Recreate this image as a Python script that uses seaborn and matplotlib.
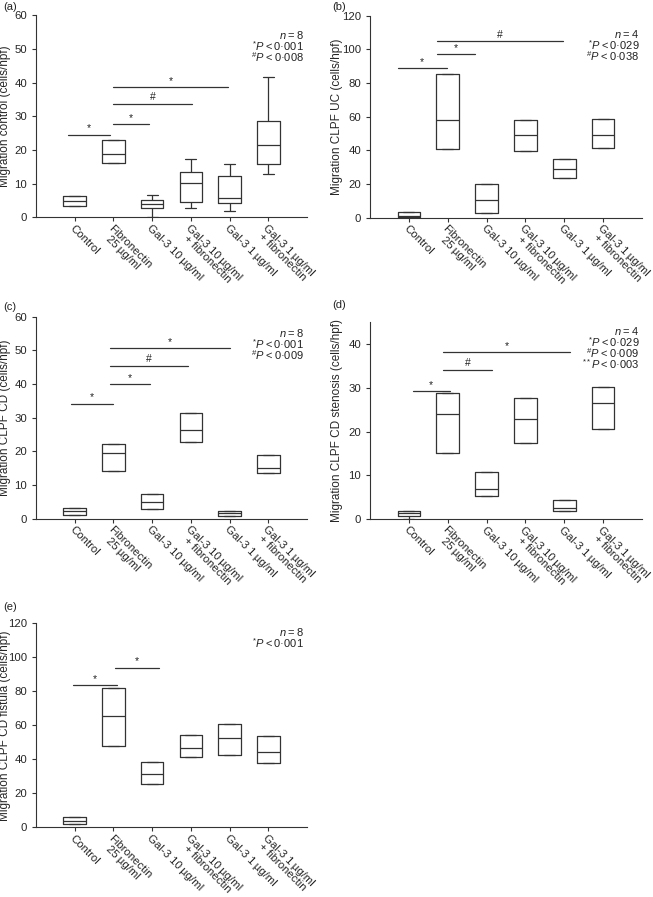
import numpy as np
import pandas as pd
import seaborn as sns
import matplotlib.pyplot as plt

groups = ["Control", "Fibronectin\n25\u2009µg/ml", "Gal-3 10\u2009µg/ml",
          "Gal-3 10\u2009µg/ml\n+ fibronectin", "Gal-3 1\u2009µg/ml",
          "Gal-3 1\u2009µg/ml\n+ fibronectin"]

# (a) migration control
a_lo = [3.3, 16.1, 0.2, 2.9, 2.0, 12.8]
a_q1 = [3.3, 16.1, 2.9, 4.5, 4.3, 15.7]
a_med = [4.9, 18.8, 4.0, 10.2, 5.8, 21.6]
a_q3 = [6.4, 22.9, 5.0, 13.6, 12.2, 28.7]
a_hi = [6.4, 22.9, 6.7, 17.2, 15.7, 41.7]
a_sig = [(-0.17, 0.92, 24.5, "*"), (1.0, 1.92, 27.6, "*"),
         (1.0, 3.02, 33.8, "#"), (1.0, 3.96, 38.7, "*")]
a_notes = ["$n$\u2009=\u20098", "$^{*}P$\u2009<\u20090·001", "$^{\\#}P$\u2009<\u20090·008"]

# (b) CLPF UC
b_lo = [0.7, 40.6, 2.6, 39.6, 23.8, 41.2]
b_q1 = [0.7, 40.6, 2.6, 39.6, 23.8, 41.2]
b_med = [1.0, 57.8, 10.7, 48.9, 29.1, 49.3]
b_q3 = [3.4, 85.1, 19.8, 58.0, 35.0, 58.4]
b_hi = [3.4, 85.1, 19.8, 58.0, 35.0, 58.4]
b_sig = [(-0.29, 0.98, 88.7, "*"), (0.72, 1.71, 97.2, "*"),
         (0.72, 3.96, 105.0, "#")]
b_notes = ["$n$\u2009=\u20094", "$^{*}P$\u2009<\u20090·029", "$^{\\#}P$\u2009<\u20090·038"]

# (c) CLPF CD
c_lo = [1.1, 14.2, 2.8, 22.7, 0.9, 13.7]
c_q1 = [1.1, 14.2, 2.8, 22.7, 0.9, 13.7]
c_med = [2.2, 19.6, 4.9, 26.3, 1.6, 15.2]
c_q3 = [3.2, 22.1, 7.2, 31.3, 2.4, 18.9]
c_hi = [3.2, 22.1, 7.2, 31.3, 2.4, 18.9]
c_sig = [(-0.1, 0.98, 34.2, "*"), (0.9, 1.95, 40.0, "*"),
         (0.9, 2.93, 45.4, "#"), (0.9, 4.0, 50.6, "*")]
c_notes = ["$n$\u2009=\u20098", "$^{*}P$\u2009<\u20090·001", "$^{\\#}P$\u2009<\u20090·009"]

# (d) CLPF CD stenosis
d_lo = [0.0, 15.0, 5.3, 17.3, 1.8, 20.5]
d_q1 = [0.8, 15.0, 5.3, 17.3, 1.8, 20.5]
d_med = [1.3, 24.0, 6.9, 22.9, 2.5, 26.5]
d_q3 = [1.9, 28.9, 10.7, 27.6, 4.3, 30.2]
d_hi = [1.9, 28.9, 10.7, 27.6, 4.3, 30.2]
d_sig = [(0.1, 1.05, 29.3, "*"), (0.88, 2.13, 34.2, "#"),
         (0.88, 4.15, 38.2, "*")]
d_notes = ["$n$\u2009=\u20094", "$^{*}P$\u2009<\u20090·029", "$^{\\#}P$\u2009<\u20090·009",
           "$^{**}P$\u2009<\u20090·003"]

# (e) CLPF CD fistula
e_lo = [1.8, 47.6, 25.7, 41.6, 42.4, 37.8]
e_q1 = [1.8, 47.6, 25.7, 41.6, 42.4, 37.8]
e_med = [3.7, 65.3, 31.6, 46.7, 52.4, 44.5]
e_q3 = [6.3, 82.0, 38.2, 54.5, 60.6, 53.9]
e_hi = [6.3, 82.0, 38.2, 54.5, 60.6, 53.9]
e_sig = [(-0.04, 1.1, 83.5, "*"), (1.04, 2.17, 93.9, "*")]
e_notes = ["$n$\u2009=\u20098", "$^{*}P$\u2009<\u20090·001"]

ink = "#333333"

sns.set_style("ticks")
plt.rcParams["font.family"] = ["Liberation Sans", "DejaVu Sans"]
plt.rcParams["mathtext.fontset"] = "custom"
plt.rcParams["mathtext.rm"] = "Liberation Sans"
plt.rcParams["mathtext.it"] = "Liberation Sans:italic"
plt.rcParams["mathtext.sf"] = "Liberation Sans"
plt.rcParams["axes.edgecolor"] = ink
plt.rcParams["axes.linewidth"] = 0.8
plt.rcParams["text.color"] = "#222222"

W, H = 653, 897
fig = plt.figure(figsize=(W / 100, H / 100), dpi=100)


def panel(rect, tag, tagpos, lo, q1, med, q3, hi, ymax, yticks, ylabel, labx,
          sig, notes, note_top):
    ax = fig.add_axes(rect)
    df = pd.DataFrame({
        "group": np.repeat(groups, 5),
        "value": np.column_stack([lo, q1, med, q3, hi]).ravel(),
    })
    sns.boxplot(data=df, x="group", y="value", order=groups, whis=(0, 100),
                width=0.58, fill=False, color=ink, linewidth=0.9, ax=ax)
    ax.set_xlim(-1, 6)
    ax.set_ylim(0, ymax)
    ax.set_yticks(yticks)
    ax.set_xticks(range(len(groups)))
    ax.set_xticklabels(groups, rotation=-45, ha="left", va="top",
                       rotation_mode="anchor", multialignment="center",
                       linespacing=0.95, fontsize=7.6)
    ax.tick_params(axis="both", length=3, width=0.8, color=ink, labelsize=8.2)
    ax.tick_params(axis="x", pad=1)
    ax.set_xlabel("")
    ax.set_ylabel(ylabel, fontsize=8.5)
    ax.yaxis.set_label_coords(labx, 0.5)
    sns.despine(ax=ax)

    for x0, x1, y, mark in sig:
        ax.plot([x0, x1], [y, y], color=ink, lw=0.9)
        ax.annotate(mark, ((x0 + x1) / 2, y), xytext=(0, 1), textcoords="offset points",
                    ha="center", va="bottom", fontsize=7.5)

    step = 11 / (rect[3] * H)
    for i, t in enumerate(notes):
        ax.text(0.99, note_top - i * step, t, transform=ax.transAxes,
                ha="right", va="center", fontsize=8)

    fig.text(tagpos[0] / W, 1 - tagpos[1] / H, tag, fontsize=8, ha="left", va="center")
    return ax


panel([36 / W, 1 - 217.3 / H, 271 / W, 202 / H], "(a)", (3, 7),
      a_lo, a_q1, a_med, a_q3, a_hi, 60, range(0, 61, 10),
      "Migration control (cells/hpf)", -0.092, a_sig, a_notes, 0.90)
panel([370 / W, 1 - 217.7 / H, 272 / W, 202 / H], "(b)", (332, 7),
      b_lo, b_q1, b_med, b_q3, b_hi, 120, range(0, 121, 20),
      "Migration CLPF UC (cells/hpf)", -0.1, b_sig, b_notes, 0.91)
panel([36 / W, 1 - 518.7 / H, 271 / W, 202 / H], "(c)", (3, 307),
      c_lo, c_q1, c_med, c_q3, c_hi, 60, range(0, 61, 10),
      "Migration CLPF CD (cells/hpf)", -0.092, c_sig, c_notes, 0.92)
panel([370 / W, 1 - 519 / H, 272 / W, 196.5 / H], "(d)", (332, 305),
      d_lo, d_q1, d_med, d_q3, d_hi, 45, range(0, 41, 10),
      "Migration CLPF CD stenosis (cells/hpf)", -0.1, d_sig, d_notes, 0.955)
panel([36 / W, 1 - 827.3 / H, 271 / W, 204 / H], "(e)", (3, 607),
      e_lo, e_q1, e_med, e_q3, e_hi, 120, range(0, 121, 20),
      "Migration CLPF CD fistula (cells/hpf)", -0.092, e_sig, e_notes, 0.955)

fig.savefig("out.png", dpi=100)
